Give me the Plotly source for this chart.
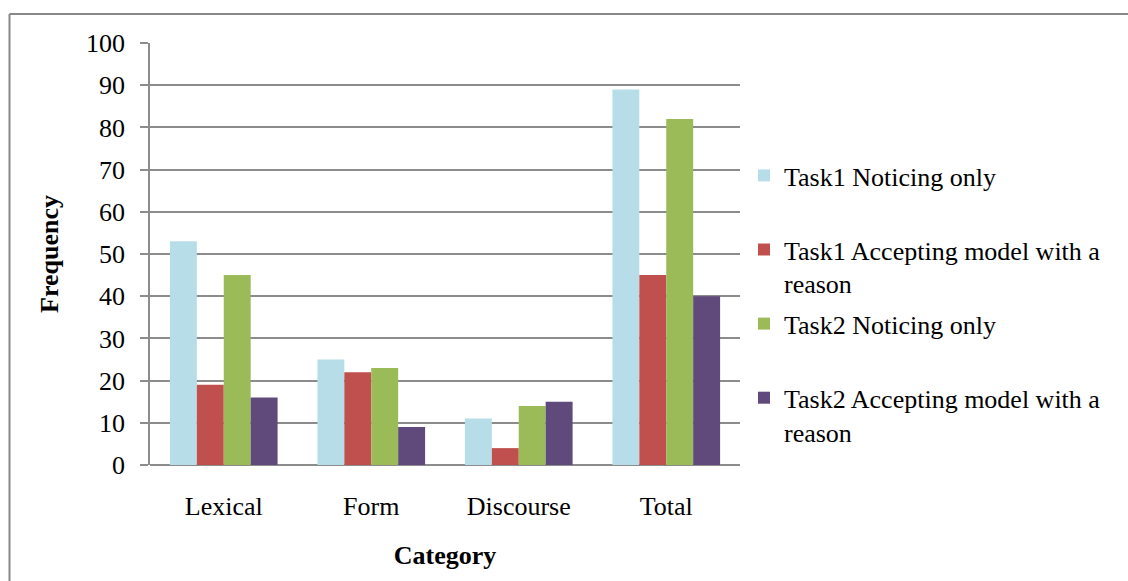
import plotly.graph_objects as go

categories = ["Lexical", "Form", "Discourse", "Total"]
series_names = [
    "Task1 Noticing only",
    "Task1 Accepting model with a<br>reason",
    "Task2 Noticing only",
    "Task2 Accepting model with a<br>reason",
]
t1_noticing = [53, 25, 11, 89]
t1_accepting = [19, 22, 4, 45]
t2_noticing = [45, 23, 14, 82]
t2_accepting = [16, 9, 15, 40]
colors = ["#B7DDE8", "#C0504D", "#9BBB59", "#604A7B"]
y_ticks = [0, 10, 20, 30, 40, 50, 60, 70, 80, 90, 100]

W, H = 1128, 581
L, R, T, B = 150, 388, 43, 116
pw, ph = W - L - R, H - T - B

FONT = "Liberation Serif, Times New Roman, serif"

fig = go.Figure()
for i, (name, vals, col) in enumerate(zip(series_names, [t1_noticing, t1_accepting, t2_noticing, t2_accepting], colors)):
    label = name if "<br>" in name else name + "<br> "
    fig.add_trace(go.Bar(x=categories, y=vals, name=label, legendgroup=f"g{i}",
                         marker=dict(color=col, line=dict(width=0))))

fig.update_layout(
    width=W, height=H,
    margin=dict(l=L, r=R, t=T, b=B, autoexpand=False),
    paper_bgcolor="white", plot_bgcolor="white",
    barmode="group", bargap=0.27, bargroupgap=0,
    font=dict(family=FONT, size=26, color="black"),
    legend=dict(
        x=(744 - L) / pw, xanchor="left",
        y=1 - (152 - T) / ph, yanchor="top",
        valign="top", tracegroupgap=3.5,
        font=dict(family=FONT, size=26, color="black"),
        bgcolor="rgba(0,0,0,0)",
    ),
    xaxis=dict(
        showline=False, showgrid=False, ticks="",
        tickfont=dict(family=FONT, size=26, color="black"), ticklabelstandoff=23,
        title=dict(text="<b>Category</b>", font=dict(family=FONT, size=26, color="black"), standoff=25),
    ),
    yaxis=dict(
        range=[0, 100], tickvals=y_ticks, showgrid=True, gridcolor="#8C8C8C", gridwidth=1.5,
        showline=True, linecolor="#8C8C8C", linewidth=1.5,
        ticks="outside", ticklen=8, tickcolor="#8C8C8C", tickwidth=1.5,
        tickfont=dict(family=FONT, size=26, color="black"), ticklabelstandoff=10,
        zeroline=True, zerolinecolor="#8C8C8C", zerolinewidth=1.5,
        title=dict(text="<b>Frequency</b>", font=dict(family=FONT, size=26, color="black"), standoff=20),
    ),
    showlegend=True,
)

# outer chart border (top and left edges)
bx = (9.5 - L) / pw
by = 1 + (T - 14) / ph
fig.add_shape(type="line", xref="paper", yref="paper", x0=bx, x1=(W + 5 - L) / pw, y0=by, y1=by,
              line=dict(color="#888888", width=2))
fig.add_shape(type="line", xref="paper", yref="paper", x0=bx, x1=bx, y0=by, y1=-(B + 5) / ph,
              line=dict(color="#888888", width=2))

fig.write_html("out.html")
